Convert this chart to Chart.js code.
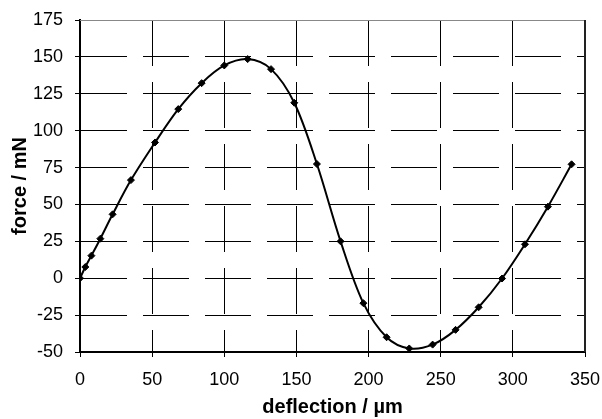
<!DOCTYPE html>
<html>
<head>
<meta charset="utf-8">
<script src="https://cdn.jsdelivr.net/npm/chart.js@4/dist/chart.umd.min.js"></script>
<style>
html,body{margin:0;padding:0;background:#fff;}
#wrap{width:602px;height:419px;}
</style>
</head>
<body>
<div id="wrap"><canvas id="c" width="602" height="419"></canvas></div>
<script>
const deflection = [0, 3.7, 7.9, 14.1, 22.6, 35.3, 52, 68.1, 84.3, 100, 116.2, 132.4, 148.5, 164.2, 180.6, 196.4, 212.5, 228.2, 244.4, 260.3, 276.3, 292.5, 308.4, 324.3, 340.7];
const force = [0, 7.6, 15.3, 26.8, 43.3, 66.5, 92, 114.6, 132.2, 144.2, 148.5, 141.7, 118.9, 77.4, 25, -16.9, -40, -47.6, -45, -35, -19.7, -0.2, 23, 48.5, 77.2];
const xTicks = [0, 50, 100, 150, 200, 250, 300, 350];
const yTicks = [-50, -25, 0, 25, 50, 75, 100, 125, 150, 175];
const xTitle = 'deflection / µm';
const yTitle = 'force / mN';

const points = deflection.map((x, i) => ({x: x, y: force[i]}));

const frame = {
  id: 'frame',
  beforeDatasetsDraw(chart) {
    const a = chart.chartArea, ctx = chart.ctx;
    ctx.save();
    ctx.lineWidth = 1;
    ctx.strokeStyle = '#888';
    ctx.beginPath();
    ctx.moveTo(Math.round(a.left), Math.round(a.top) + 0.5);
    ctx.lineTo(Math.round(a.right), Math.round(a.top) + 0.5);
    ctx.stroke();
    ctx.strokeStyle = '#222';
    ctx.lineWidth = 2;
    ctx.beginPath();
    ctx.moveTo(Math.round(a.right), Math.round(a.top));
    ctx.lineTo(Math.round(a.right), Math.round(a.bottom));
    ctx.stroke();
    ctx.restore();
  }
};

const FONT = "'Liberation Sans', Arial, sans-serif";

new Chart(document.getElementById('c'), {
  type: 'scatter',
  data: {
    datasets: [{
      data: points,
      showLine: true,
      borderColor: '#000',
      backgroundColor: '#000',
      borderWidth: 2,
      tension: 0.33,
      pointStyle: 'rectRot',
      pointRadius: 3.5,
      pointHoverRadius: 3.5,
      pointBackgroundColor: '#000',
      pointBorderColor: '#000',
      pointBorderWidth: 1
    }]
  },
  options: {
    responsive: false,
    animation: false,
    devicePixelRatio: 1,
    layout: {padding: {left: 8, right: 17, top: 20, bottom: 0}},
    plugins: {legend: {display: false}, tooltip: {enabled: false}},
    scales: {
      x: {
        type: 'linear',
        min: 0, max: 350,
        afterBuildTicks: s => { s.ticks = xTicks.map(v => ({value: v})); },
        afterFit: s => { s.height = 419 - 352; s.paddingLeft = 0; s.paddingRight = 0; },
        ticks: {color: '#000', font: {family: FONT, size: 18}, padding: 12, maxRotation: 0},
        grid: {color: '#000', lineWidth: 1, tickLength: 5, tickColor: '#000', tickBorderDash: []},
        border: {display: true, color: '#000', width: 2, dash: [46, 16]},
        title: {display: true, text: xTitle, color: '#000', font: {family: FONT, size: 20, weight: 'bold'}, padding: {top: 0, bottom: 0}}
      },
      y: {
        type: 'linear',
        min: -50, max: 175,
        afterBuildTicks: s => { s.ticks = yTicks.map(v => ({value: v})); },
        afterFit: s => { s.width = 80 - 8; s.paddingTop = 0; s.paddingBottom = 0; },
        ticks: {color: '#000', font: {family: FONT, size: 18}, padding: 12},
        grid: {color: '#000', lineWidth: 1, tickLength: 5, tickColor: '#000', tickBorderDash: []},
        border: {display: true, color: '#000', width: 2, dash: [46, 16]},
        title: {display: true, text: yTitle, color: '#000', font: {family: FONT, size: 20, weight: 'bold'}, padding: {top: 0, bottom: 0}}
      }
    }
  },
  plugins: [frame]
});
</script>
</body>
</html>
